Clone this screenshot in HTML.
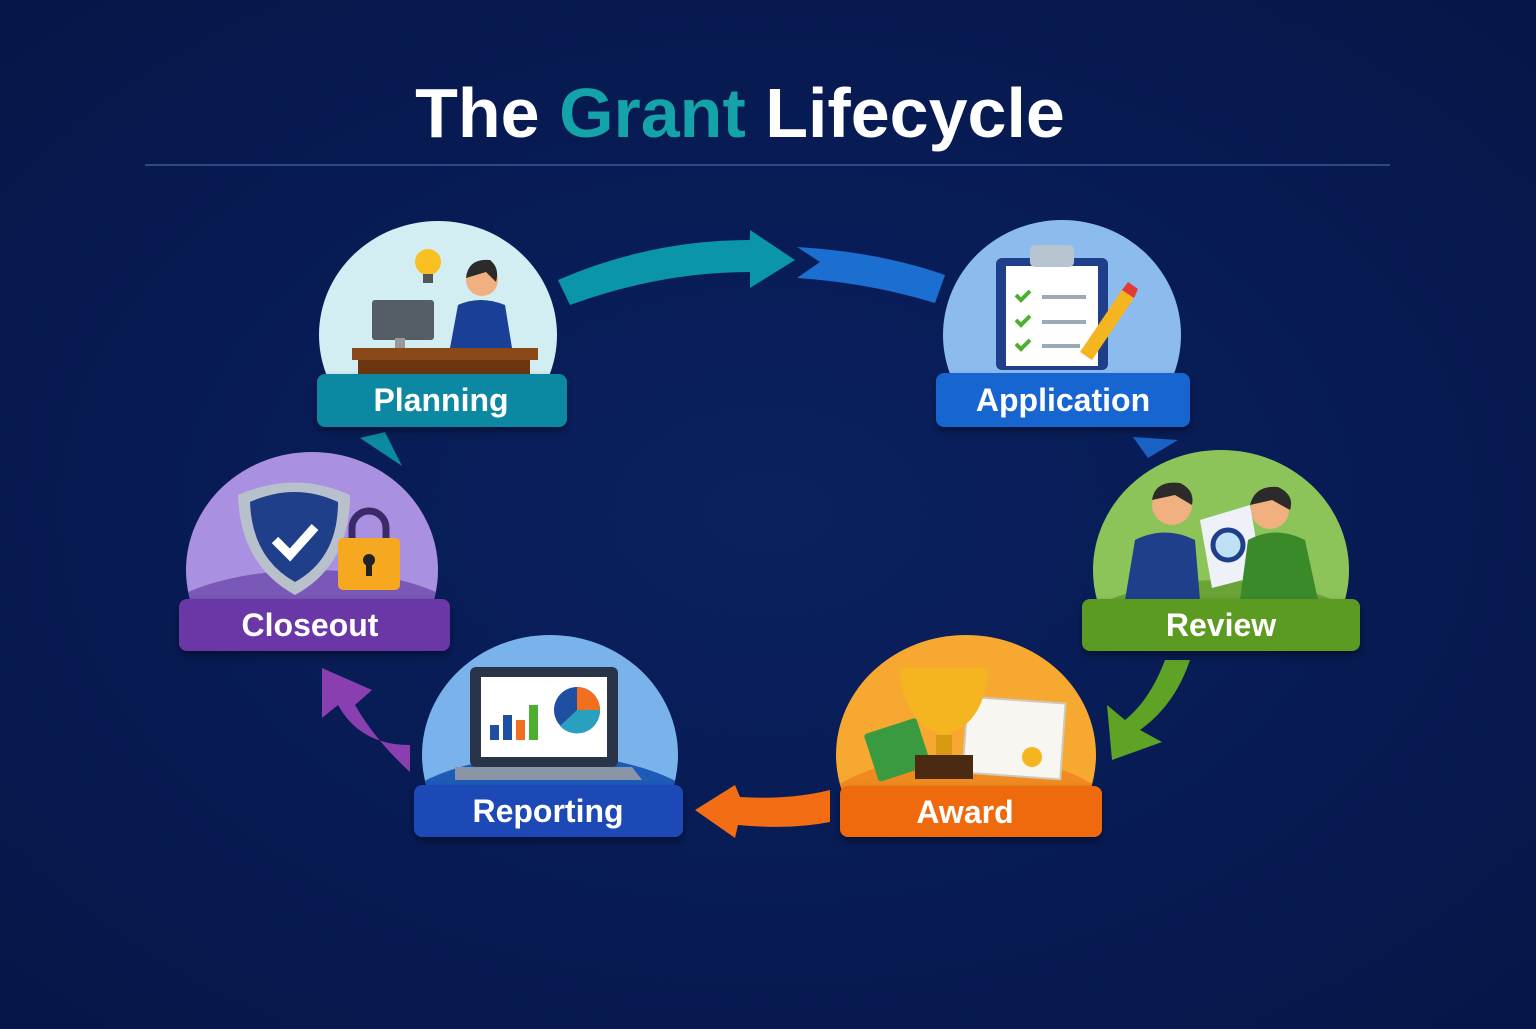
<!DOCTYPE html>
<html><head><meta charset="utf-8"><style>
html,body{margin:0;padding:0;}
body{width:1536px;height:1024px;overflow:hidden;background:radial-gradient(ellipse at 50% 50%,#0a2160 0%,#071a52 60%,#061647 100%);font-family:"Liberation Sans",sans-serif;}
</style></head><body>
<svg width="1536" height="1024" viewBox="0 0 1536 1024" xmlns="http://www.w3.org/2000/svg">
<defs>
<filter id="sh" x="-20%" y="-20%" width="140%" height="150%"><feDropShadow dx="0" dy="4" stdDeviation="4" flood-color="#000" flood-opacity="0.4"/></filter>
<clipPath id="c1"><rect x="0" y="0" width="1536" height="380"/></clipPath>
<clipPath id="c2"><rect x="0" y="0" width="1536" height="604"/></clipPath>
<clipPath id="c3"><rect x="0" y="0" width="1536" height="790"/></clipPath>
<clipPath id="dRev"><ellipse cx="1221" cy="570" rx="128" ry="120"/></clipPath>
<clipPath id="dAw"><ellipse cx="966" cy="755" rx="130" ry="120"/></clipPath>
<clipPath id="dRep"><ellipse cx="550" cy="755" rx="128" ry="120"/></clipPath>
<clipPath id="dClo"><ellipse cx="312" cy="570" rx="126" ry="118"/></clipPath>
</defs>
<text x="740" y="137" text-anchor="middle" font-size="70" font-weight="bold" fill="#fff" font-family="Liberation Sans,sans-serif"><tspan>The </tspan><tspan fill="#14a3a8">Grant</tspan><tspan> Lifecycle</tspan></text>
<line x1="145" y1="165" x2="1390" y2="165" stroke="#3b5a98" stroke-width="1.5"/>

<!-- arrows -->
<path d="M558,280 Q650,240 750,240 L750,230 L795,260 L750,288 L750,272 Q660,272 570,305 Z" fill="#0b95aa"/>
<path d="M797,247 Q880,252 945,275 L935,303 Q870,283 797,278 L820,262 Z" fill="#1a6fd0"/>
<path d="M1133,437 L1178,440 L1148,458 Z" fill="#1a62c4"/>
<path d="M1190,660 Q1175,705 1140,730 L1162,742 L1112,760 L1107,705 L1125,720 Q1150,700 1165,660 Z" fill="#5ea226"/>
<path d="M830,790 Q790,800 740,797 L735,785 L695,810 L735,838 L738,825 Q790,830 830,822 Z" fill="#f26d14"/>
<path d="M410,772 Q375,740 355,705 L372,690 L322,668 L322,718 L338,705 Q360,745 410,745 Z" fill="#8a3fb0"/>
<path d="M360,438 L385,432 L402,466 Z" fill="#0b8aa0"/>

<!-- Planning -->
<g clip-path="url(#c1)"><ellipse cx="438" cy="335" rx="119" ry="114" fill="#d3eef3"/></g>
<circle cx="428" cy="262" r="13" fill="#f8c020"/><rect x="423" y="274" width="10" height="9" fill="#555"/>
<rect x="372" y="300" width="62" height="40" rx="3" fill="#555d66"/><rect x="395" y="338" width="10" height="12" fill="#999"/>
<path d="M450,348 L458,305 Q480,295 505,305 L512,348 Z" fill="#1a3f96"/>
<circle cx="482" cy="280" r="16" fill="#f0b080"/><path d="M466,278 Q468,258 490,260 Q500,268 496,282 L486,272 Z" fill="#2b2b2b"/>
<rect x="352" y="348" width="186" height="12" fill="#8a4a18"/><rect x="358" y="360" width="172" height="16" fill="#6b3510"/>
<g filter="url(#sh)"><rect x="317" y="374" width="250" height="53" rx="8" fill="#0d88a2"/></g>
<text x="441" y="411" text-anchor="middle" font-size="32" font-weight="bold" fill="#fff">Planning</text>

<!-- Application -->
<g clip-path="url(#c1)"><ellipse cx="1062" cy="335" rx="119" ry="115" fill="#8cbcee"/></g>
<rect x="996" y="258" width="112" height="112" rx="6" fill="#1f3f8a"/><rect x="1006" y="266" width="92" height="100" fill="#fff"/>
<rect x="1030" y="245" width="44" height="22" rx="5" fill="#b8c4d0"/>
<g stroke="#4caf30" stroke-width="4" fill="none"><path d="M1016,295 l5,5 l9,-9"/><path d="M1016,320 l5,5 l9,-9"/><path d="M1016,344 l5,5 l9,-9"/></g>
<g stroke="#9aa8b8" stroke-width="4"><line x1="1042" y1="297" x2="1086" y2="297"/><line x1="1042" y1="322" x2="1086" y2="322"/><line x1="1042" y1="346" x2="1080" y2="346"/></g>
<path d="M1080,352 L1122,290 L1134,298 L1092,360 Z" fill="#f5b520"/><path d="M1122,290 l6,-8 l10,7 l-4,9z" fill="#e53935"/>
<g filter="url(#sh)"><rect x="936" y="373" width="254" height="54" rx="8" fill="#1565d0"/></g>
<text x="1063" y="411" text-anchor="middle" font-size="32" font-weight="bold" fill="#fff">Application</text>

<!-- Review -->
<g clip-path="url(#c2)"><g clip-path="url(#dRev)"><rect x="1080" y="440" width="280" height="260" fill="#8cc45a"/><ellipse cx="1221" cy="650" rx="160" ry="70" fill="#6aa436"/></g></g>
<path d="M1125,600 L1135,540 Q1165,525 1195,540 L1200,600 Z" fill="#1f3f8a"/>
<circle cx="1172" cy="505" r="20" fill="#f0b080"/><path d="M1152,500 Q1155,480 1180,483 Q1195,490 1192,505 L1175,495 Z" fill="#2b2b2b"/>
<path d="M1200,520 L1250,505 L1262,575 L1212,588 Z" fill="#eef2f8"/>
<circle cx="1228" cy="545" r="15" fill="#bfe0f5" stroke="#1f3f8a" stroke-width="5"/>
<path d="M1240,600 L1248,540 Q1275,525 1305,540 L1318,600 Z" fill="#3a8a2a"/>
<circle cx="1270" cy="510" r="19" fill="#f0b080"/><path d="M1250,505 Q1255,485 1278,487 Q1295,495 1290,510 L1272,500 Z" fill="#2b2b2b"/>
<g filter="url(#sh)"><rect x="1082" y="599" width="278" height="52" rx="8" fill="#5b9b23"/></g>
<text x="1221" y="636" text-anchor="middle" font-size="32" font-weight="bold" fill="#fff">Review</text>

<!-- Award -->
<g clip-path="url(#c3)"><g clip-path="url(#dAw)"><rect x="830" y="630" width="280" height="260" fill="#f7a830"/><ellipse cx="966" cy="830" rx="160" ry="75" fill="#f08a20"/></g></g>
<rect x="965" y="700" width="98" height="76" fill="#f8f6f0" stroke="#d0c8b8" stroke-width="2" transform="rotate(4 1014 738)"/>
<circle cx="1032" cy="757" r="10" fill="#f5b520"/>
<rect x="870" y="725" width="55" height="50" rx="3" fill="#3a9a40" transform="rotate(-18 897 750)"/>
<path d="M900,668 L988,668 Q985,725 944,735 Q903,725 900,668 Z" fill="#f5b520"/>
<rect x="936" y="735" width="16" height="20" fill="#d89a10"/><rect x="915" y="755" width="58" height="24" fill="#4a2a10"/>
<g filter="url(#sh)"><rect x="840" y="786" width="262" height="51" rx="8" fill="#ef6a10"/></g>
<text x="965" y="823" text-anchor="middle" font-size="32" font-weight="bold" fill="#fff">Award</text>

<!-- Reporting -->
<g clip-path="url(#c3)"><g clip-path="url(#dRep)"><rect x="410" y="630" width="280" height="260" fill="#7ab2ec"/><ellipse cx="550" cy="835" rx="170" ry="80" fill="#1e5ab8"/></g></g>
<rect x="470" y="667" width="148" height="100" rx="6" fill="#2a3448"/><rect x="481" y="677" width="126" height="80" fill="#fff"/>
<path d="M455,767 L632,767 L642,780 L455,780 Z" fill="#8a96a8"/>
<rect x="490" y="725" width="9" height="15" fill="#1f4fa0"/><rect x="503" y="715" width="9" height="25" fill="#1f4fa0"/><rect x="516" y="720" width="9" height="20" fill="#f07020"/><rect x="529" y="705" width="9" height="35" fill="#4caf30"/>
<circle cx="577" cy="710" r="23" fill="#1f4fa0"/><path d="M577,710 L577,687 A23,23 0 0 1 600,710 Z" fill="#f07020"/><path d="M577,710 L600,710 A23,23 0 0 1 560,726 Z" fill="#2aa0c0"/>
<g filter="url(#sh)"><rect x="414" y="785" width="269" height="52" rx="8" fill="#1a4ab6"/></g>
<text x="548" y="822" text-anchor="middle" font-size="32" font-weight="bold" fill="#fff">Reporting</text>

<!-- Closeout -->
<g clip-path="url(#c2)"><g clip-path="url(#dClo)"><rect x="180" y="440" width="270" height="260" fill="#a990e0"/><ellipse cx="312" cy="640" rx="170" ry="70" fill="#7a58b8"/></g></g>
<path d="M238,495 Q295,470 350,495 Q350,565 295,595 Q240,565 238,495 Z" fill="#b8c0cc"/>
<path d="M250,502 Q295,482 338,502 Q338,558 295,582 Q252,558 250,502 Z" fill="#1f3f8a"/>
<path d="M275,540 l15,15 l25,-28" stroke="#fff" stroke-width="9" fill="none"/>
<path d="M352,540 v-12 a17,17 0 0 1 34,0 v12" stroke="#3a2a6a" stroke-width="7" fill="none"/>
<rect x="338" y="538" width="62" height="52" rx="5" fill="#f5a820"/><circle cx="369" cy="560" r="6" fill="#222"/><rect x="366" y="562" width="6" height="14" fill="#222"/>
<g filter="url(#sh)"><rect x="179" y="599" width="271" height="52" rx="8" fill="#6a38a6"/></g>
<text x="310" y="636" text-anchor="middle" font-size="32" font-weight="bold" fill="#fff">Closeout</text>
</svg>
</body></html>
